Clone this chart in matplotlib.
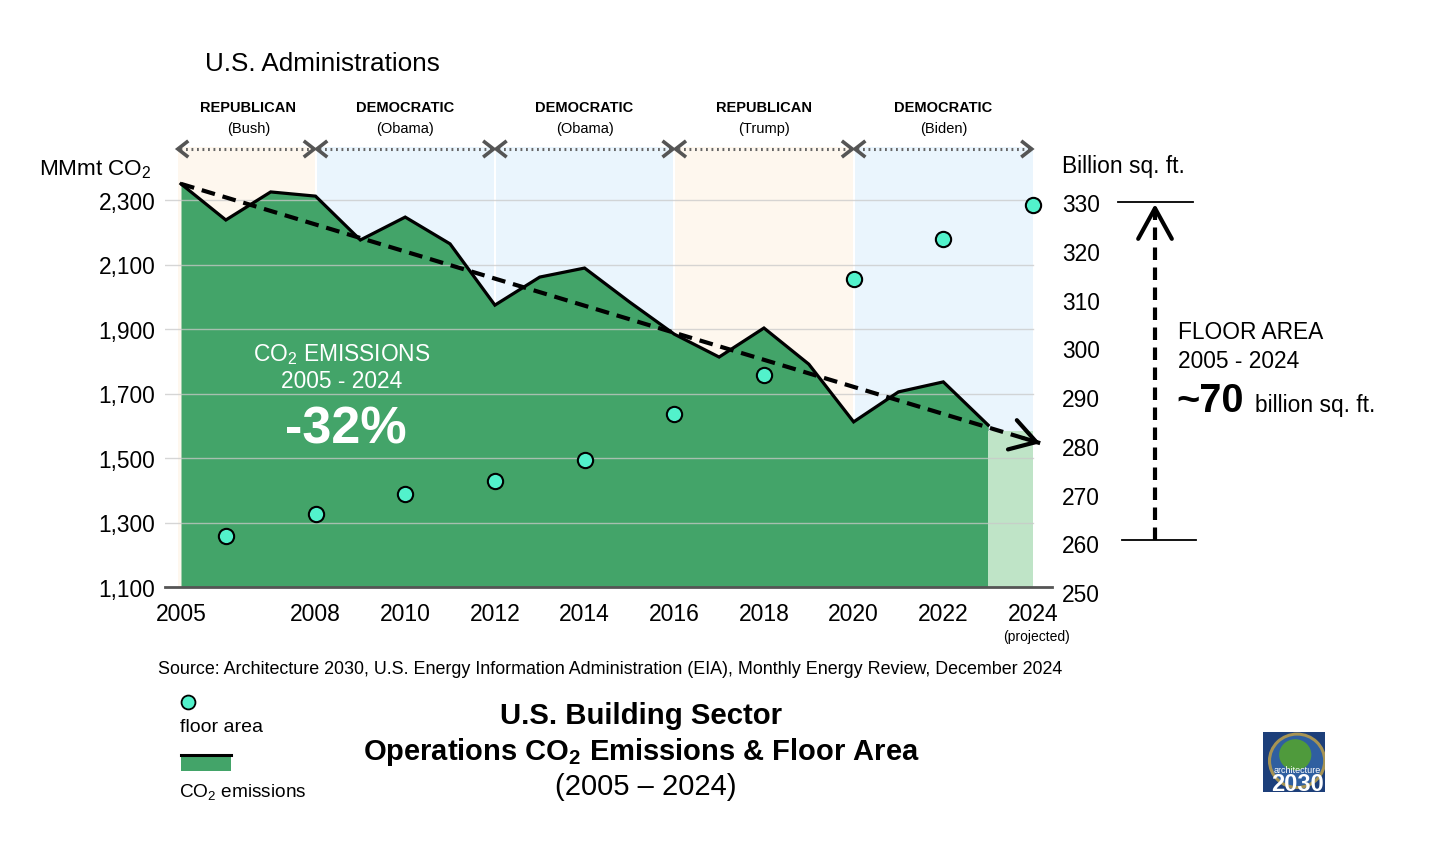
import matplotlib
matplotlib.use('Agg')
import matplotlib.pyplot as plt
from matplotlib.patches import Rectangle, Circle
from matplotlib.lines import Line2D
import matplotlib.transforms as mtransforms

plt.rcParams['font.family'] = ['Liberation Sans', 'DejaVu Sans']
plt.rcParams['mathtext.fontset'] = 'custom'
plt.rcParams['mathtext.rm'] = 'Liberation Sans'
plt.rcParams['mathtext.it'] = 'Liberation Sans:italic'
plt.rcParams['mathtext.bf'] = 'Liberation Sans:bold'

# ---------------- data ----------------
years = list(range(2005, 2024))
emissions = [2350, 2238, 2325, 2312, 2176, 2247, 2164, 1974, 2061, 2089,
             1984, 1884, 1813, 1903, 1791, 1612, 1705, 1736, 1602]
proj_years = [2023, 2024]
proj_emissions = [1584, 1584]
floor_years = [2006, 2008, 2010, 2012, 2014, 2016, 2018, 2020, 2022, 2024]
floor_area = [261.5, 266.0, 270.1, 272.8, 277.1, 286.5, 294.5, 314.2, 322.4, 329.4]
trend_years = [2005, 2024.16]
trend_values = [2350, 1546]
admin_start = [2005, 2008, 2012, 2016, 2020]
admin_end = [2008, 2012, 2016, 2020, 2024]
admin_party = ['REPUBLICAN', 'DEMOCRATIC', 'DEMOCRATIC', 'REPUBLICAN', 'DEMOCRATIC']
admin_name = ['(Bush)', '(Obama)', '(Obama)', '(Trump)', '(Biden)']
admin_color = ['#fef7ee', '#eaf5fd', '#eaf5fd', '#fef7ee', '#eaf5fd']
xtick_years = [2005, 2008, 2010, 2012, 2014, 2016, 2018, 2020, 2022, 2024]
left_ticks = [1100, 1300, 1500, 1700, 1900, 2100, 2300]
right_ticks = [250, 260, 270, 280, 290, 300, 310, 320, 330]
floor_bracket = [260.6, 330]

W, H = 1431, 845
def fx(px): return px / W
def fy(py): return 1 - (py + 2) / H

fig = plt.figure(figsize=(W / 100, H / 100), dpi=100)
fig.patch.set_facecolor('white')

ax_l, ax_r, ax_top, ax_bot = 165, 1052, 148, 588
ax = fig.add_axes([fx(ax_l), 1 - ax_bot / H, (ax_r - ax_l) / W, (ax_bot - ax_top) / H])
ax2 = fig.add_axes([fx(ax_l), 1 - 593 / H, (ax_r - ax_l) / W, (593 - ax_top) / H])
ax2.patch.set_alpha(0)

ppy = (1033 - 181) / 19.0
xlim = (2005 - (181 - ax_l) / ppy, 2024 + (ax_r - 1033) / ppy)
ax.set_xlim(*xlim)
ax2.set_xlim(*xlim)
ppu = (588 - 201) / 1200.0
ax.set_ylim(1100, 1100 + (ax_bot - ax_top) / ppu)
ppr = (593 - 203) / 80.0
ax2.set_ylim(250, 250 + (593 - ax_top) / ppr)

# administration bands
for s, e, c in zip(admin_start, admin_end, admin_color):
    ax.axvspan(s if s > 2005 else s - 0.07, e, color=c, zorder=0, lw=0)
    if s > 2005:
        ax.axvline(s, color='white', lw=1.5, zorder=0.5)

# gridlines
for t in left_ticks[1:]:
    ax.plot([xlim[0], 2024], [t, t], color='#c9c9c9', lw=1, alpha=0.75, zorder=3)

# emissions area
ax.fill_between(years, emissions, 1100, color='#43a469', lw=0, zorder=2)
ax.fill_between(proj_years, proj_emissions, 1100, color='#bfe4c7', lw=0, zorder=2)
ax.plot(years, emissions, color='black', lw=2.3, zorder=4, solid_joinstyle='miter')

# trend arrow
ax.plot(trend_years, trend_values, color='black', lw=3, dashes=(3.3, 1.9), zorder=5)
dx = trend_years[1] - trend_years[0]
dy = trend_values[1] - trend_values[0]
ax.annotate('', xy=(trend_years[1], trend_values[1]),
            xytext=(trend_years[1] - 0.02 * dx, trend_values[1] - 0.02 * dy),
            arrowprops=dict(arrowstyle='->,head_length=0.9,head_width=0.55', color='black',
                            lw=3, mutation_scale=20, shrinkA=0, shrinkB=0), zorder=5)

# floor area dots
ax2.plot(floor_years, floor_area, 'o', ms=11, mfc='#52f2cb', mec='black', mew=1.5, zorder=6,
         linestyle='none', clip_on=False)

# axes styling
for a in (ax, ax2):
    for sp in a.spines.values():
        sp.set_visible(False)
ax.spines['bottom'].set_visible(True)
ax.spines['bottom'].set_color('#555555')
ax.spines['bottom'].set_linewidth(2)
ax.spines['bottom'].set_zorder(7)
ax.set_yticks(left_ticks)
ax.set_yticklabels([f'{v:,}' for v in left_ticks])
ax.tick_params(axis='y', length=0, pad=7, labelsize=16.4)
ax.set_xticks(xtick_years)
ax.set_xticklabels([str(y) for y in xtick_years])
ax.tick_params(axis='x', length=0, pad=11, labelsize=16.5)
ax2.set_xticks([])
ax2.yaxis.tick_right()
ax2.set_yticks(right_ticks)
ax2.set_yticklabels([str(v) for v in right_ticks])
ax2.tick_params(axis='y', length=0, pad=7, labelsize=16.4)

# axis titles
fig.text(fx(152), fy(168), 'MMmt CO$_2$', ha='right', va='center', fontsize=16.2)
fig.text(fx(1062), fy(165), 'Billion sq. ft.', ha='left', va='center', fontsize=16.4)
fig.text(fx(1036), fy(635), '(projected)', ha='center', va='center', fontsize=10)

# administrations header
fig.text(fx(205), fy(62), 'U.S. Administrations', ha='left', va='center', fontsize=18.8)
tb = mtransforms.blended_transform_factory(ax.transData, fig.transFigure)
ta = mtransforms.blended_transform_factory(ax.transData, ax.transAxes)
ay = (588 - 150) / (588 - 148)
cdy = 7 / 440.0
cdx = 9 / ppy
for s, e, p, n in zip(admin_start, admin_end, admin_party, admin_name):
    xs = s - 0.07 if s == 2005 else s + 0.03
    xe = e - 0.03
    ax.plot([xs + 0.05, xe - 0.05], [ay, ay], transform=ta, color='#666666', lw=2.2,
            linestyle=(0, (0.6, 1.2)), clip_on=False, zorder=8)
    ax.plot([xs + cdx, xs, xs + cdx], [ay + cdy, ay, ay - cdy], transform=ta, color='#555555',
            lw=2.6, clip_on=False, zorder=8, solid_joinstyle='miter')
    ax.plot([xe - cdx, xe, xe - cdx], [ay + cdy, ay, ay - cdy], transform=ta, color='#555555',
            lw=2.6, clip_on=False, zorder=8, solid_joinstyle='miter')
    cx = (s + e) / 2.0
    fig.text(cx, fy(106), p, transform=tb, ha='center', va='center', fontsize=10.5,
             fontweight='bold')
    fig.text(cx, fy(127), n, transform=tb, ha='center', va='center', fontsize=10.5)

# emissions annotation
fig.text(fx(342), fy(353), 'CO$_2$ EMISSIONS', ha='center', va='center', fontsize=16.4,
         color='white')
fig.text(fx(342), fy(380), '2005 - 2024', ha='center', va='center', fontsize=16.4,
         color='white')
fig.text(fx(346), fy(428), '-32%', ha='center', va='center', fontsize=37.5, color='white',
         fontweight='bold')

# floor area bracket
tr = mtransforms.blended_transform_factory(fig.transFigure, ax2.transData)
fig.add_artist(Line2D([fx(1118), fx(1193)], [floor_bracket[1]] * 2, transform=tr,
                      color='black', lw=1.3))
fig.add_artist(Line2D([fx(1122), fx(1196)], [floor_bracket[0]] * 2, transform=tr,
                      color='black', lw=1.3))
fig.add_artist(Line2D([fx(1155), fx(1155)], [floor_bracket[0], floor_bracket[1] - 1.6],
                      transform=tr, color='black', lw=3, dashes=(3.0, 1.8)))
ax2.annotate('', xy=(fx(1155), floor_bracket[1] - 0.4), xycoords=tr,
             xytext=(fx(1155), floor_bracket[1] - 3), textcoords=tr,
             arrowprops=dict(arrowstyle='->,head_length=1.0,head_width=0.55', color='black',
                             lw=3, mutation_scale=22, shrinkA=0, shrinkB=0),
             annotation_clip=False)
fig.text(fx(1178), fy(331), 'FLOOR AREA', ha='left', va='center', fontsize=16.4)
fig.text(fx(1178), fy(360), '2005 - 2024', ha='left', va='center', fontsize=16.4)
fig.text(fx(1176), fy(399), '~70', ha='left', va='center', fontsize=28.5, fontweight='bold')
fig.text(fx(1255), fy(404), 'billion sq. ft.', ha='left', va='center', fontsize=16.4)

# source
fig.text(fx(610), fy(668), 'Source: Architecture 2030, U.S. Energy Information Administration '
         '(EIA), Monthly Energy Review, December 2024', ha='center', va='center', fontsize=12.9)

# legend
fig.add_artist(Line2D([fx(188)], [1 - 703 / H], marker='o', ms=10, mfc='#52f2cb', mec='black',
                      mew=1.3, linestyle='none'))
fig.text(fx(180), fy(726), 'floor area', ha='left', va='center', fontsize=14)
fig.add_artist(Rectangle((fx(181), 1 - 772 / H), 50 / W, 17 / H, transform=fig.transFigure,
                         facecolor='#43a469', edgecolor='none'))
fig.add_artist(Line2D([fx(181), fx(231)], [1 - 756 / H, 1 - 756 / H], color='black', lw=2.2))
fig.text(fx(179), fy(790), 'CO$_2$ emissions', ha='left', va='center', fontsize=13.7)

# title
fig.text(fx(641), fy(714), 'U.S. Building Sector', ha='center', va='center', fontsize=21.2,
         fontweight='bold')
fig.text(fx(641), fy(750), r'Operations CO$_\mathbf{2}$ Emissions & Floor Area', ha='center',
         va='center', fontsize=21, fontweight='bold')
fig.text(fx(646), fy(785), '(2005 – 2024)', ha='center', va='center', fontsize=21)

# logo
lg = fig.add_axes([fx(1263), 1 - 793 / H, 62 / W, 60 / H])
lg.set_xlim(0, 1)
lg.set_ylim(0, 1)
lg.axis('off')
lg.add_patch(Rectangle((0, 0), 1, 1, facecolor='#1d3f7a', edgecolor='none'))
lg.add_patch(Circle((0.55, 0.52), 0.47, facecolor='#c9a94a', edgecolor='none', alpha=0.8))
lg.add_patch(Circle((0.55, 0.52), 0.42, facecolor='#2f5fa0', edgecolor='none'))
lg.add_patch(Circle((0.52, 0.62), 0.26, facecolor='#4f9a3c', edgecolor='none'))
lg.text(0.55, 0.38, 'architecture', ha='center', va='center', fontsize=6.5, color='white')
lg.text(0.55, 0.14, '2030', ha='center', va='center', fontsize=17, color='white',
        fontweight='bold')

fig.savefig('out.png', dpi=100, facecolor='white')
